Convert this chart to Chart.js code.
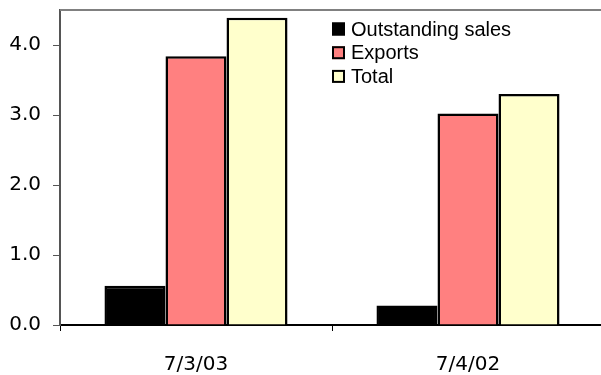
<!DOCTYPE html>
<html>
<head>
<meta charset="utf-8">
<script src="https://cdn.jsdelivr.net/npm/chart.js@4/dist/chart.umd.min.js"></script>
<style>
  html, body { margin: 0; padding: 0; background: #fff; overflow: hidden; }
  #wrap { width: 606px; height: 375px; position: relative; }
</style>
</head>
<body>
<div id="wrap"><canvas id="c" width="606" height="375"></canvas></div>
<script>
const categories = ["7/3/03", "7/4/02"];
const seriesNames = ["Outstanding sales", "Exports", "Total"];
const outstandingSales = [0.56, 0.28];
const exportsVals = [3.84, 3.02];
const totalVals = [4.39, 3.30];
const yTickValues = [0, 1, 2, 3, 4];
const colors = ["#000000", "#FF8080", "#FFFFCC"];

const legendPlugin = {
  id: 'customLegend',
  afterDraw(chart) {
    const ctx = chart.ctx;
    const a = chart.chartArea;
    ctx.save();
    ctx.strokeStyle = '#808080';
    ctx.lineWidth = 2;
    ctx.beginPath();
    ctx.moveTo(a.left, a.top);
    ctx.lineTo(chart.width, a.top);
    ctx.stroke();
    ctx.font = '20px "Liberation Sans", Arial, sans-serif';
    ctx.textBaseline = 'middle';
    ctx.textAlign = 'left';
    chart.data.datasets.forEach((ds, i) => {
      const cy = 29 + i * 23.7;
      ctx.fillStyle = ds.backgroundColor;
      ctx.fillRect(332, cy - 6.5, 13, 13);
      ctx.strokeStyle = '#000';
      ctx.lineWidth = 2;
      ctx.strokeRect(333, cy - 5.5, 11, 11);
      ctx.fillStyle = '#000';
      ctx.fillText(ds.label, 351, cy + 1);
    });
    ctx.restore();
  }
};

new Chart(document.getElementById('c'), {
  type: 'bar',
  data: {
    labels: categories,
    datasets: [
      { label: seriesNames[0], data: outstandingSales, backgroundColor: colors[0] },
      { label: seriesNames[1], data: exportsVals, backgroundColor: colors[1] },
      { label: seriesNames[2], data: totalVals, backgroundColor: colors[2] }
    ].map(d => Object.assign(d, {
      borderColor: '#000', borderWidth: 2.5, borderSkipped: 'start',
      categoryPercentage: 0.673, barPercentage: 1.0
    }))
  },
  options: {
    responsive: false,
    animation: false,
    devicePixelRatio: 1,
    layout: { padding: { top: 10, left: 0, right: 2, bottom: 0 } },
    plugins: { legend: { display: false }, tooltip: { enabled: false } },
    scales: {
      x: {
        offset: true,
        grid: { offset: true, drawOnChartArea: false, drawTicks: true, tickLength: 6, color: '#000', lineWidth: 1 },
        border: { display: true, color: '#000', width: 2 },
        ticks: { color: '#000', font: { family: '"DejaVu Sans", sans-serif', size: 20 }, padding: 22, maxRotation: 0 },
        afterFit(s) { s.height = 50; s.paddingLeft = 0; s.paddingRight = 0; }
      },
      y: {
        min: 0, max: 4.5,
        afterBuildTicks(s) { s.ticks = yTickValues.map(v => ({ value: v })); },
        grid: { drawOnChartArea: false, drawTicks: true, tickLength: 7, color: '#555', lineWidth: 1 },
        border: { display: true, color: '#555', width: 2 },
        ticks: {
          color: '#000', font: { family: '"DejaVu Sans", sans-serif', size: 20 }, padding: 12,
          callback: v => Number(v).toFixed(1)
        },
        afterFit(s) { s.width = 60; s.paddingTop = 0; s.paddingBottom = 0; }
      }
    }
  },
  plugins: [legendPlugin]
});
</script>
</body>
</html>
